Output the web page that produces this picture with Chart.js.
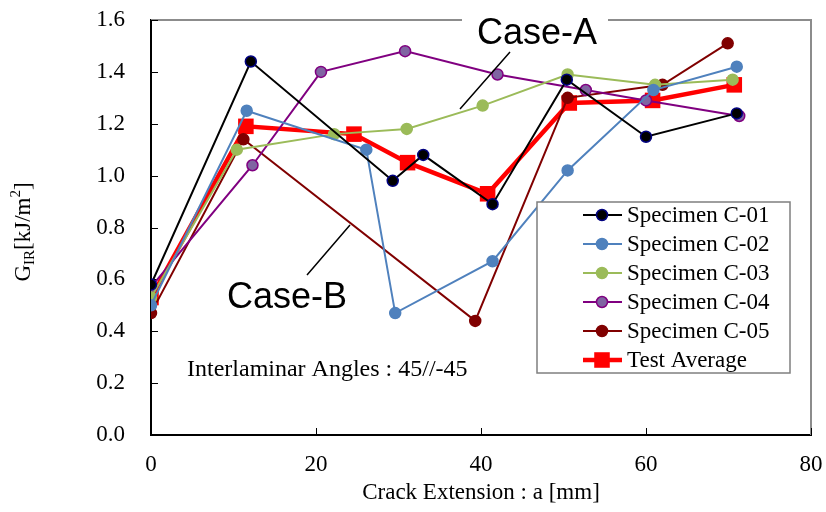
<!DOCTYPE html>
<html>
<head>
<meta charset="utf-8">
<script src="https://cdn.jsdelivr.net/npm/chart.js@4.4.1/dist/chart.umd.min.js"></script>
<style>
  html, body { margin: 0; padding: 0; background: #fff; }
</style>
</head>
<body>
<canvas id="crackChart" width="826" height="512"></canvas>
<script>
// values: crack extension a [mm] and G_IR [kJ/m2]
const seriesLabels = ["Specimen C-01", "Specimen C-02", "Specimen C-03", "Specimen C-04", "Specimen C-05", "Test Average"];

const c01X = [0, 12.1, 29.3, 33.0, 41.4, 50.4, 60.0, 71.0];
const c01Y = [0.58, 1.44, 0.98, 1.08, 0.89, 1.37, 1.15, 1.24];

const c02X = [0, 11.6, 26.1, 29.6, 41.4, 50.5, 60.9, 71.0];
const c02Y = [0.50, 1.25, 1.10, 0.47, 0.67, 1.02, 1.33, 1.42];

const c03X = [0, 10.4, 22.2, 31.0, 40.2, 50.5, 61.1, 70.5];
const c03Y = [0.53, 1.10, 1.16, 1.18, 1.27, 1.39, 1.35, 1.37];

const c04X = [0, 12.3, 20.6, 30.8, 42.0, 52.7, 60.0, 71.3];
const c04Y = [0.57, 1.04, 1.40, 1.48, 1.39, 1.33, 1.29, 1.23];

const c05X = [0, 11.2, 39.3, 50.5, 62.0, 69.9];
const c05Y = [0.47, 1.14, 0.44, 1.30, 1.35, 1.51];

const avgX = [0, 11.5, 24.6, 31.1, 40.8, 50.7, 60.8, 70.7];
const avgY = [0.53, 1.19, 1.16, 1.05, 0.93, 1.28, 1.29, 1.35];

const xTicks = [0, 20, 40, 60, 80];
const yTicks = [0.0, 0.2, 0.4, 0.6, 0.8, 1.0, 1.2, 1.4, 1.6];

const serif = "'Liberation Serif', 'Times New Roman', serif";
const sans = "'Liberation Sans', Arial, sans-serif";

function pts(xs, ys) {
  return xs.map((x, i) => ({ x: x, y: ys[i] }));
}

function specimen(label, xs, ys, line, fill, edge) {
  return {
    label: label,
    data: pts(xs, ys),
    borderColor: line,
    borderWidth: 2,
    pointStyle: 'circle',
    pointRadius: 5.5,
    pointBackgroundColor: fill,
    pointBorderColor: edge,
    pointBorderWidth: 1.5,
    tension: 0
  };
}

const datasets = [
  specimen(seriesLabels[0], c01X, c01Y, '#000000', '#000000', '#000080'),
  specimen(seriesLabels[1], c02X, c02Y, '#4F81BD', '#4F81BD', '#4F81BD'),
  specimen(seriesLabels[2], c03X, c03Y, '#9BBB59', '#9BBB59', '#9BBB59'),
  specimen(seriesLabels[3], c04X, c04Y, '#800080', '#8064A2', '#800080'),
  specimen(seriesLabels[4], c05X, c05Y, '#800000', '#800000', '#800000'),
  {
    label: seriesLabels[5],
    data: pts(avgX, avgY),
    borderColor: '#FF0000',
    borderWidth: 4.5,
    pointStyle: 'rect',
    pointRadius: 11,
    pointBackgroundColor: '#FF0000',
    pointBorderColor: '#FF0000',
    pointBorderWidth: 0,
    tension: 0
  }
];

// extra drawing: frame, inward ticks, notes, legend box, y title
const decorations = {
  id: 'decorations',
  beforeDatasetsDraw(chart) {
    const ctx = chart.ctx;
    const a = chart.chartArea;
    const xs = chart.scales.x, ys = chart.scales.y;
    ctx.save();
    // gray plot frame on top / right
    ctx.strokeStyle = '#8c8c8c';
    ctx.lineWidth = 2;
    ctx.beginPath();
    ctx.moveTo(a.left, a.top);
    ctx.lineTo(a.right, a.top);
    ctx.lineTo(a.right, a.bottom);
    ctx.stroke();
    // inward tick marks
    ctx.strokeStyle = '#000';
    ctx.lineWidth = 1;
    ctx.beginPath();
    yTicks.forEach(v => {
      const p = Math.round(ys.getPixelForValue(v)) + 0.5;
      ctx.moveTo(a.left, p);
      ctx.lineTo(a.left + 7, p);
    });
    xTicks.forEach(v => {
      const p = Math.round(xs.getPixelForValue(v)) + 0.5;
      ctx.moveTo(p, a.bottom);
      ctx.lineTo(p, a.bottom - 7);
    });
    ctx.stroke();
    // white box behind Case-A
    ctx.fillStyle = '#fff';
    ctx.fillRect(462, 10, 146, 44);
    ctx.restore();
  },
  afterDatasetsDraw(chart) {
    const ctx = chart.ctx;
    ctx.save();
    // leader lines
    ctx.strokeStyle = '#000';
    ctx.lineWidth = 1.5;
    ctx.beginPath();
    ctx.moveTo(510, 52); ctx.lineTo(460, 109);
    ctx.moveTo(350, 225); ctx.lineTo(307, 275);
    ctx.stroke();

    ctx.fillStyle = '#000';
    ctx.textBaseline = 'middle';
    ctx.textAlign = 'left';
    ctx.font = '36px ' + sans;
    ctx.fillText('Case-A', 477, 34);
    ctx.fillText('Case-B', 227, 298);
    ctx.font = '24px ' + serif;
    ctx.fillText('Interlaminar Angles : 45//-45', 187, 370);

    // legend
    const lx = 537, ly = 202, lw = 253, lh = 171;
    ctx.fillStyle = '#fff';
    ctx.fillRect(lx, ly, lw, lh);
    ctx.strokeStyle = '#7f7f7f';
    ctx.lineWidth = 1.5;
    ctx.strokeRect(lx, ly, lw, lh);
    chart.data.datasets.forEach((ds, i) => {
      const y = 215 + i * 29;
      ctx.strokeStyle = ds.borderColor;
      ctx.lineWidth = ds.borderWidth;
      ctx.beginPath();
      ctx.moveTo(583, y);
      ctx.lineTo(622, y);
      ctx.stroke();
      ctx.fillStyle = ds.pointBackgroundColor;
      ctx.strokeStyle = ds.pointBorderColor;
      ctx.lineWidth = ds.pointBorderWidth;
      Chart.helpers.drawPoint(ctx, {
        pointStyle: ds.pointStyle,
        radius: ds.pointRadius,
        borderWidth: ds.pointBorderWidth,
        rotation: 0
      }, 602, y);
      ctx.fillStyle = '#000';
      ctx.font = '23px ' + serif;
      ctx.textAlign = 'left';
      ctx.textBaseline = 'middle';
      ctx.fillText(ds.label, 627, y + 1);
    });

    // y axis title with sub / superscript
    ctx.translate(24, 232);
    ctx.rotate(-Math.PI / 2);
    const big = '23px ' + serif, small = '15px ' + serif;
    const parts = [
      { t: 'G', f: big, dy: 0 },
      { t: 'IR', f: small, dy: 6 },
      { t: '[kJ/m', f: big, dy: 0 },
      { t: '2', f: small, dy: -8 },
      { t: ']', f: big, dy: 0 }
    ];
    let total = 0;
    parts.forEach(p => { ctx.font = p.f; p.w = ctx.measureText(p.t).width; total += p.w; });
    let x = -total / 2;
    ctx.fillStyle = '#000';
    ctx.textBaseline = 'middle';
    parts.forEach(p => { ctx.font = p.f; ctx.fillText(p.t, x, p.dy); x += p.w; });
    ctx.restore();

    // x axis title
    ctx.save();
    ctx.fillStyle = '#000';
    ctx.font = '23px ' + serif;
    ctx.textAlign = 'center';
    ctx.textBaseline = 'middle';
    ctx.fillText('Crack Extension : a [mm]', 481, 493);
    ctx.restore();
  }
};

const ctx = document.getElementById('crackChart').getContext('2d');
new Chart(ctx, {
  type: 'line',
  data: { datasets: datasets },
  options: {
    responsive: false,
    animation: false,
    devicePixelRatio: 1,
    layout: { padding: { left: 0, right: 15, top: 20, bottom: 0 } },
    scales: {
      x: {
        type: 'linear',
        min: 0,
        max: 80,
        afterBuildTicks: s => { s.ticks = xTicks.map(v => ({ value: v })); },
        afterFit: s => { s.height = 77; s.paddingLeft = 0; s.paddingRight = 0; },
        grid: { display: false, drawTicks: false },
        border: { display: true, color: '#000', width: 2 },
        ticks: {
          color: '#000',
          padding: 16,
          font: { family: serif, size: 23 }
        }
      },
      y: {
        type: 'linear',
        min: 0,
        max: 1.6,
        afterBuildTicks: s => { s.ticks = yTicks.map(v => ({ value: v })); },
        afterFit: s => { s.width = 151; s.paddingTop = 0; s.paddingBottom = 0; },
        grid: { display: false, drawTicks: false },
        border: { display: true, color: '#000', width: 2 },
        ticks: {
          color: '#000',
          padding: 26,
          font: { family: serif, size: 23 },
          callback: v => Number(v).toFixed(1)
        }
      }
    },
    plugins: {
      legend: { display: false },
      tooltip: { enabled: false }
    }
  },
  plugins: [decorations]
});
</script>
</body>
</html>
